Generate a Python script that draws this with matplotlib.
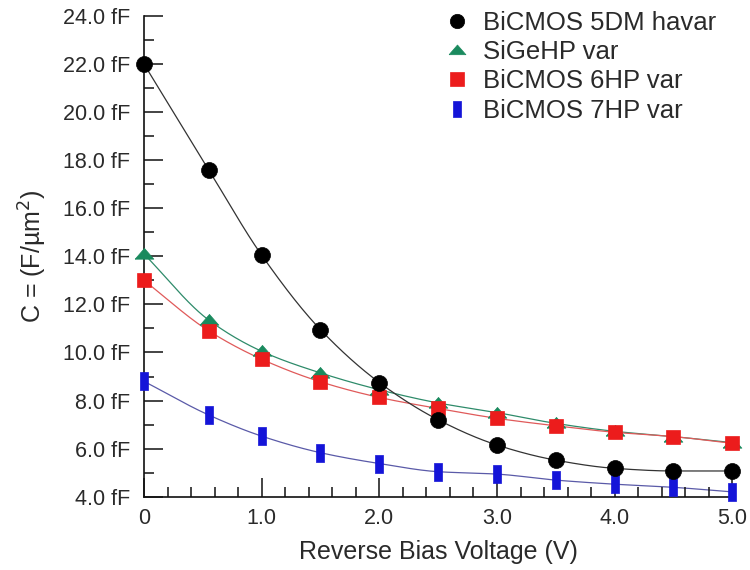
import numpy as np
import matplotlib
matplotlib.use("Agg")
import matplotlib.pyplot as plt
from matplotlib.ticker import MultipleLocator, FixedLocator, FixedFormatter

plt.rcParams['font.family'] = ['Liberation Sans', 'DejaVu Sans']

# Reverse bias voltage (V)
voltage = [0.0, 0.55, 1.0, 1.5, 2.0, 2.5, 3.0, 3.5, 4.0, 4.5, 5.0]

# Capacitance density (fF/um^2)
bicmos_5dm = [22.0, 17.6, 14.05, 10.95, 8.75, 7.2, 6.15, 5.52, 5.18, 5.07, 5.07]
sigehp = [14.1, 11.35, 10.05, 9.15, 8.45, 7.9, 7.5, 7.05, 6.72, 6.5, 6.25]
bicmos_6hp = [13.0, 10.9, 9.72, 8.78, 8.13, 7.67, 7.26, 6.95, 6.68, 6.5, 6.22]
bicmos_7hp = [8.8, 7.4, 6.52, 5.83, 5.38, 5.04, 4.94, 4.69, 4.52, 4.39, 4.2]

labels = ["BiCMOS 5DM havar", "SiGeHP var", "BiCMOS 6HP var", "BiCMOS 7HP var"]
y_ticks = [4, 6, 8, 10, 12, 14, 16, 18, 20, 22, 24]
y_tick_labels = ["4.0 fF", "6.0 fF", "8.0 fF", "10.0 fF", "12.0 fF", "14.0 fF",
                 "16.0 fF", "18.0 fF", "20.0 fF", "22.0 fF", "24.0 fF"]
x_ticks = [0, 1, 2, 3, 4, 5]
x_tick_labels = ["0", "1.0", "2.0", "3.0", "4.0", "5.0"]


def pchip(x, y, xs):
    """Monotone cubic (Fritsch-Carlson) curve through the measured points."""
    x = np.asarray(x, float)
    y = np.asarray(y, float)
    h = np.diff(x)
    d = np.diff(y) / h
    m = np.zeros_like(y)
    for k in range(1, len(x) - 1):
        if d[k - 1] * d[k] > 0:
            w1 = 2 * h[k] + h[k - 1]
            w2 = h[k] + 2 * h[k - 1]
            m[k] = (w1 + w2) / (w1 / d[k - 1] + w2 / d[k])
    m[0] = d[0]
    m[-1] = d[-1]
    idx = np.clip(np.searchsorted(x, xs) - 1, 0, len(x) - 2)
    t = (xs - x[idx]) / h[idx]
    h00 = 2 * t**3 - 3 * t**2 + 1
    h10 = t**3 - 2 * t**2 + t
    h01 = -2 * t**3 + 3 * t**2
    h11 = t**3 - t**2
    return (h00 * y[idx] + h10 * h[idx] * m[idx]
            + h01 * y[idx + 1] + h11 * h[idx] * m[idx + 1])


tri = [(-1.0, -0.5), (1.0, -0.5), (0.0, 0.65), (-1.0, -0.5)]
bar = [(-0.45, -1.0), (0.45, -1.0), (0.45, 1.0), (-0.45, 1.0), (-0.45, -1.0)]

series = [
    (bicmos_5dm, "#333333", "black", "o", 11.5, 5),
    (sigehp, "#2e8b6a", "#1a8a5e", tri, 13.5, 2),
    (bicmos_6hp, "#e05a5a", "#ec1c1c", "s", 10.5, 3),
    (bicmos_7hp, "#5a5aa8", "#1414d8", bar, 13.0, 1),
]

fig = plt.figure(figsize=(7.5, 5.7), dpi=100)
ax = fig.add_axes([0.192, 0.1286, 0.7844, 0.8433])

xs = np.linspace(voltage[0], voltage[-1], 400)
handles = []
for vals, lc, mc, mk, ms, z in series:
    ax.plot(xs, pchip(voltage, vals, xs), color=lc, lw=0.9, zorder=z, clip_on=False)
    h, = ax.plot(voltage, vals, linestyle="none", marker=mk, markersize=ms,
                 markerfacecolor=mc, markeredgecolor=mc, markeredgewidth=0.5,
                 zorder=z + 5, clip_on=False)
    handles.append(h)

ax.set_xlim(0, 5)
ax.set_ylim(4, 24)

for side in ("top", "right"):
    ax.spines[side].set_visible(False)
for side in ("left", "bottom"):
    ax.spines[side].set_linewidth(1.2)
    ax.spines[side].set_color("#111111")

ax.yaxis.set_major_locator(FixedLocator(y_ticks))
ax.yaxis.set_major_formatter(FixedFormatter(y_tick_labels))
ax.yaxis.set_minor_locator(MultipleLocator(1))
ax.xaxis.set_major_locator(FixedLocator(x_ticks))
ax.xaxis.set_major_formatter(FixedFormatter(x_tick_labels))
ax.xaxis.set_minor_locator(MultipleLocator(0.2))

ax.tick_params(which="major", direction="in", length=14, width=1.1,
               color="#111111", labelsize=15.5, labelcolor="#2a2a2a")
ax.tick_params(which="minor", direction="in", length=7, width=1.1, color="#111111")
ax.tick_params(axis="y", which="major", pad=10)
ax.tick_params(axis="x", which="major", pad=8)

ax.set_xlabel("Reverse Bias Voltage (V)", fontsize=18, color="#2a2a2a", labelpad=8)
ax.set_ylabel("C = (F/\u00b5m$^2$)", fontsize=18, color="#2a2a2a", labelpad=10)

leg = ax.legend(handles, labels, loc="upper left", bbox_to_anchor=(0.575, 1.003),
                bbox_transform=fig.transFigure, frameon=False, fontsize=18.5,
                handlelength=1.0, handletextpad=0.5, labelspacing=0.2,
                markerscale=0.9, borderpad=0)
for t in leg.get_texts():
    t.set_color("#2a2a2a")

fig.savefig("out.png", dpi=100, facecolor="white")
